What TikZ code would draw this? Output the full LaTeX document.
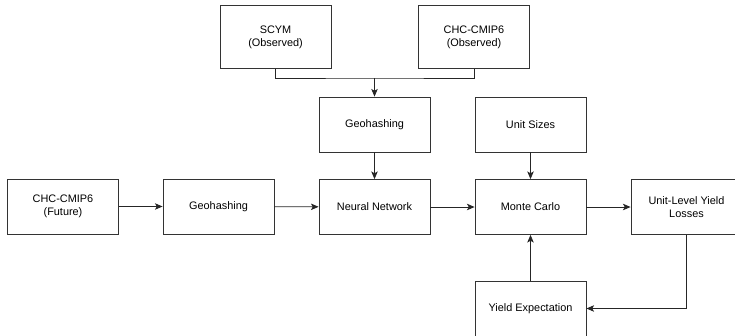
\documentclass[tikz,border=0pt]{standalone}
\usepackage{fontspec}
\setmainfont{Liberation Sans}
\usetikzlibrary{arrows.meta}

\begin{document}
\begin{tikzpicture}[x=0.03cm, y=-0.03cm, >={Stealth[length=6.5pt,width=5.5pt,inset=1.5pt]},
  font=\fontsize{9.3}{11}\selectfont,
  stage/.style={draw=black!80, line width=0.7pt, align=center, minimum width=3.33cm, minimum height=1.65cm, inner sep=1pt},
  source/.style={stage, minimum height=1.89cm},
  flow/.style={->, draw=black!85, line width=0.7pt}]

\useasboundingbox (0,0) rectangle (735,335);

% observed data sources on top
\node[source] (scym) at (275.5,37) {SCYM\\(Observed)};
\node[source] (cmipobs) at (474,37) {CHC-CMIP6\\(Observed)};
\coordinate (merge) at (374.5,78);

% second row: geohashing of observed data, unit sizes
\node[stage] (geoobs) at (374.5,124.5) {Geohashing};
\node[stage] (units) at (530.5,124.5) {Unit Sizes};

% main row, left to right
\node[stage] (future) at (63,206.5) {CHC-CMIP6\\(Future)};
\node[stage] (geofut) at (218.5,206.5) {Geohashing};
\node[stage] (nn) at (374.5,207) {Neural Network};
\node[stage] (mc) at (530.5,207) {Monte Carlo};
\node[stage] (losses) at (686.5,207) {Unit-Level Yield\\Losses};

% bottom: yield expectation feeding back into the simulation
\node[stage] (expect) at (530.5,308.5) {Yield Expectation};

% connectors
\draw[line width=0.7pt, black!85] (scym.south) |- (merge) -| (cmipobs.south);
\draw[flow] (merge) -- (geoobs.north);
\draw[flow] (geoobs) -- (nn);
\draw[flow] (units) -- (mc);
\draw[flow] (future) -- (geofut);
\draw[flow] (geofut) -- (nn);
\draw[flow] (nn) -- (mc);
\draw[flow] (mc) -- (losses);
\draw[flow] (losses.south) |- (expect.east);
\draw[flow] (expect) -- (mc);

\end{tikzpicture}
\end{document}
